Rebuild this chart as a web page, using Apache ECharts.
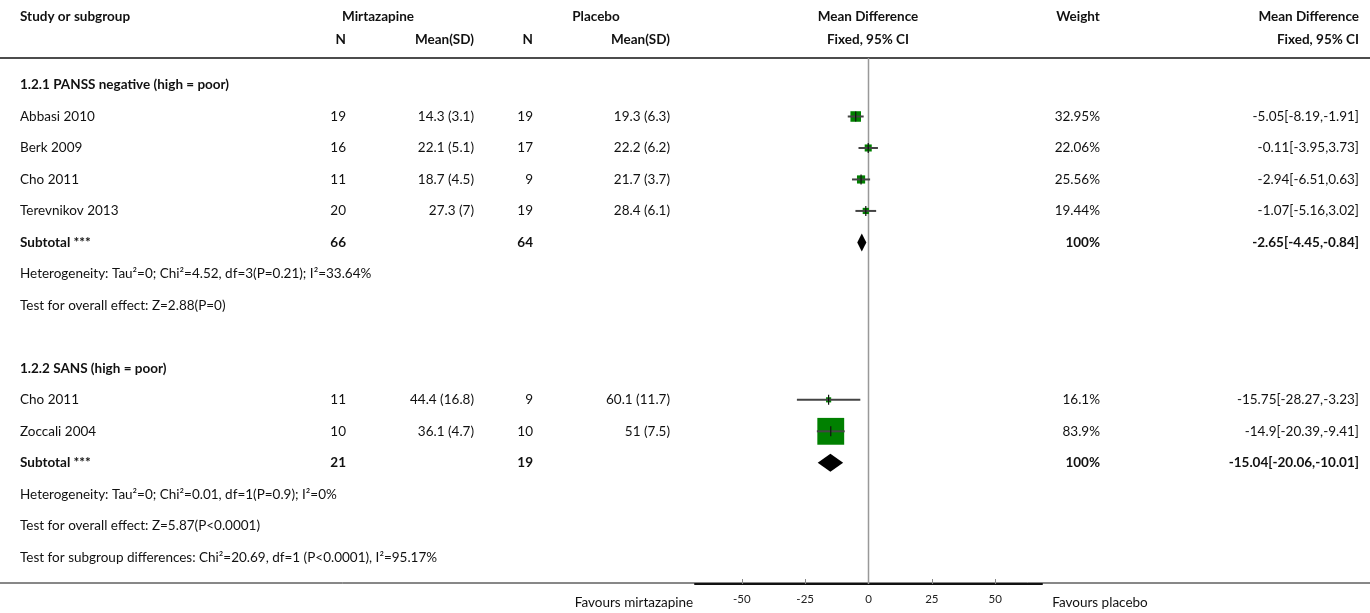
<!DOCTYPE html>
<html>
<head>
<meta charset="utf-8">
<script src="https://cdn.jsdelivr.net/npm/echarts@6/dist/echarts.min.js"></script>
<style>
  html, body { margin: 0; padding: 0; background: #fff; }
  #chart { width: 1370px; height: 613px; }
</style>
</head>
<body>
<div id="chart"></div>
<script>
// row index -> kind of line in the table
const rowLabels = ['1.2.1 PANSS negative (high = poor)', 'Abbasi 2010', 'Berk 2009', 'Cho 2011', 'Terevnikov 2013',
    'Subtotal ***', 'Heterogeneity: Tau\u00b2=0; Chi\u00b2=4.52, df=3(P=0.21); I\u00b2=33.64%', 'Test for overall effect: Z=2.88(P=0)', '',
    '1.2.2 SANS (high = poor)', 'Cho 2011', 'Zoccali 2004', 'Subtotal ***',
    'Heterogeneity: Tau\u00b2=0; Chi\u00b2=0.01, df=1(P=0.9); I\u00b2=0%', 'Test for overall effect: Z=5.87(P<0.0001)',
    'Test for subgroup differences: Chi\u00b2=20.69, df=1 (P<0.0001), I\u00b2=95.17%'];
const rowKinds = ['head', 'study', 'study', 'study', 'study', 'total', 'note', 'note', 'note',
    'head', 'study', 'study', 'total', 'note', 'note', 'note'];

const studyRows = [1, 2, 3, 4, 10, 11];
const mirtN = ['19', '16', '11', '20', '11', '10'];
const mirtMean = ['14.3 (3.1)', '22.1 (5.1)', '18.7 (4.5)', '27.3 (7)', '44.4 (16.8)', '36.1 (4.7)'];
const placN = ['19', '17', '9', '19', '9', '10'];
const placMean = ['19.3 (6.3)', '22.2 (6.2)', '21.7 (3.7)', '28.4 (6.1)', '60.1 (11.7)', '51 (7.5)'];
const md = [-5.05, -0.11, -2.94, -1.07, -15.75, -14.9];
const lo = [-8.19, -3.95, -6.51, -5.16, -28.27, -20.39];
const hi = [-1.91, 3.73, 0.63, 3.02, -3.23, -9.41];
const weight = [32.95, 22.06, 25.56, 19.44, 16.1, 83.9];
const weightText = ['32.95%', '22.06%', '25.56%', '19.44%', '16.1%', '83.9%'];
const ciText = ['-5.05[-8.19,-1.91]', '-0.11[-3.95,3.73]', '-2.94[-6.51,0.63]', '-1.07[-5.16,3.02]',
    '-15.75[-28.27,-3.23]', '-14.9[-20.39,-9.41]'];

const totalRows = [5, 12];
const totalMirtN = ['66', '21'];
const totalPlacN = ['64', '19'];
const totalMd = [-2.65, -15.04];
const totalLo = [-4.45, -20.06];
const totalHi = [-0.84, -10.01];
const totalCiText = ['-2.65[-4.45,-0.84]', '-15.04[-20.06,-10.01]'];

const xTicks = [-50, -25, 0, 25, 50];

const FONT = 'Lato, "Noto Sans", sans-serif';
const chart = echarts.init(document.getElementById('chart'));

function txt(x, y, s, align, bold) {
    return { type: 'text', x: x, y: y, style: { text: s, textAlign: align, textVerticalAlign: 'middle',
        font: (bold ? 'bold ' : '') + '13.5px ' + FONT, fill: '#111' } };
}

// table text drawn through a custom series so rows follow the y scale
const tableData = rowLabels.map((l, i) => [0, i]);
function renderTable(params, api) {
    const i = api.value(1);
    const y = api.coord([0, i])[1];
    const kind = rowKinds[i];
    const els = [];
    if (rowLabels[i]) els.push(txt(20, y, rowLabels[i], 'left', kind === 'head' || kind === 'total'));
    const s = studyRows.indexOf(i);
    if (s >= 0) {
        els.push(txt(346, y, mirtN[s], 'right'));
        els.push(txt(474, y, mirtMean[s], 'right'));
        els.push(txt(533, y, placN[s], 'right'));
        els.push(txt(670, y, placMean[s], 'right'));
        els.push(txt(1100, y, weightText[s], 'right'));
        els.push(txt(1359, y, ciText[s], 'right'));
    }
    const t = totalRows.indexOf(i);
    if (t >= 0) {
        els.push(txt(346, y, totalMirtN[t], 'right', true));
        els.push(txt(533, y, totalPlacN[t], 'right', true));
        els.push(txt(1100, y, '100%', 'right', true));
        els.push(txt(1359, y, totalCiText[t], 'right', true));
    }
    return { type: 'group', children: els };
}

function renderStudy(params, api) {
    const i = params.dataIndex;
    const y = api.coord([0, studyRows[i]])[1];
    const xm = api.coord([md[i], 0])[0];
    const xl = api.coord([lo[i], 0])[0];
    const xh = api.coord([hi[i], 0])[0];
    const side = Math.max(5, weight[i] * 0.32);
    return { type: 'group', children: [
        { type: 'rect', shape: { x: xm - side / 2, y: y - side / 2, width: side, height: side }, style: { fill: '#008000' } },
        { type: 'line', shape: { x1: xl, y1: y, x2: xh, y2: y }, style: { stroke: '#444', lineWidth: 2 } },
        { type: 'line', shape: { x1: xm, y1: y - 5, x2: xm, y2: y + 5 }, style: { stroke: '#111', lineWidth: 1.2 } }
    ] };
}

function renderTotal(params, api) {
    const i = params.dataIndex;
    const y = api.coord([0, totalRows[i]])[1];
    const xm = api.coord([totalMd[i], 0])[0];
    const xl = api.coord([totalLo[i], 0])[0];
    const xh = api.coord([totalHi[i], 0])[0];
    return { type: 'polygon', shape: { points: [[xl, y], [xm, y - 9], [xh, y], [xm, y + 9]] }, style: { fill: '#000' } };
}

chart.setOption({
    animation: false,
    grid: { left: 695, right: 1370 - 1042, top: 58, bottom: 613 - 584 },
    xAxis: {
        type: 'value', min: -68.5, max: 68.5, position: 'bottom',
        axisLine: { show: true, onZero: false, lineStyle: { color: '#111', width: 2 } },
        axisTick: { show: true, customValues: xTicks, length: 5, inside: true, lineStyle: { color: '#888' } },
        axisLabel: { customValues: xTicks, color: '#222', fontSize: 11.5, fontFamily: FONT, margin: 9 },
        splitLine: { show: false }
    },
    yAxis: {
        type: 'value', min: -0.858, max: 15.85, inverse: true, show: false
    },
    graphic: [
        txt(20, 17, 'Study or subgroup', 'left', true),
        txt(378, 17, 'Mirtazapine', 'center', true),
        txt(596, 17, 'Placebo', 'center', true),
        txt(868, 17, 'Mean Difference', 'center', true),
        txt(1078, 17, 'Weight', 'center', true),
        txt(1359, 17, 'Mean Difference', 'right', true),
        txt(346, 40, 'N', 'right', true),
        txt(474, 40, 'Mean(SD)', 'right', true),
        txt(533, 40, 'N', 'right', true),
        txt(670, 40, 'Mean(SD)', 'right', true),
        txt(868, 40, 'Fixed, 95% CI', 'center', true),
        txt(1359, 40, 'Fixed, 95% CI', 'right', true),
        { type: 'line', shape: { x1: 0, y1: 58, x2: 1370, y2: 58 }, style: { stroke: '#111', lineWidth: 1.5 } },
        { type: 'line', shape: { x1: 0, y1: 583, x2: 1370, y2: 583 }, style: { stroke: '#111', lineWidth: 1 }, z: -1 },
        txt(634, 603, 'Favours mirtazapine', 'center'),
        txt(1100, 603, 'Favours placebo', 'center')
    ],
    series: [
        { type: 'line', data: [[0, -0.858], [0, 15.85]], symbol: 'none', lineStyle: { color: '#999', width: 1.5 }, z: 1 },
        { type: 'custom', renderItem: renderTable, data: tableData, z: 3 },
        { type: 'custom', renderItem: renderStudy, data: md.map((v, i) => [v, studyRows[i]]), z: 4 },
        { type: 'custom', renderItem: renderTotal, data: totalMd.map((v, i) => [v, totalRows[i]]), z: 4 }
    ]
});
</script>
</body>
</html>
